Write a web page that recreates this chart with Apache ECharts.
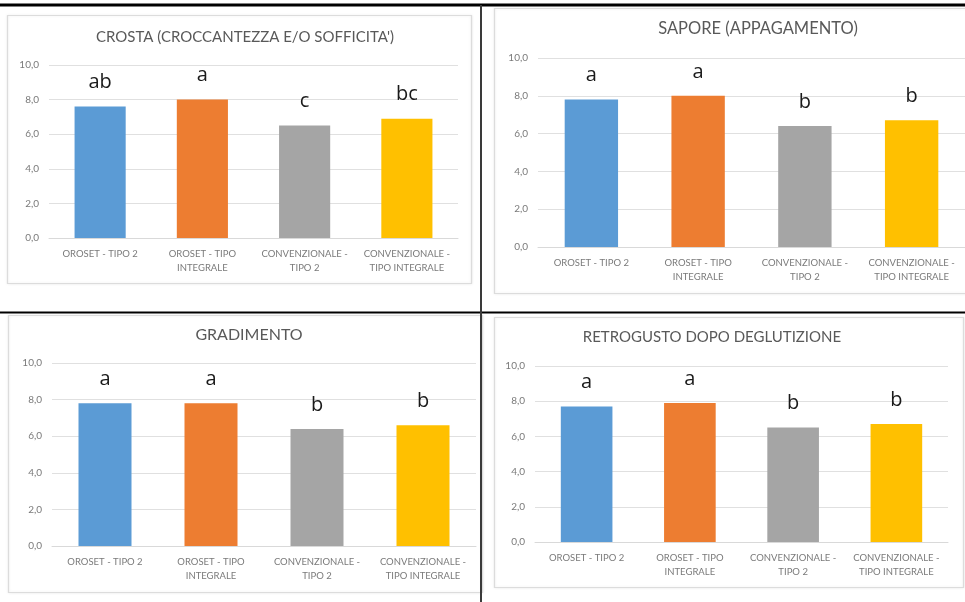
<!DOCTYPE html>
<html>
<head>
<meta charset="utf-8">
<title>Valutazione sensoriale</title>
<script src="https://cdn.jsdelivr.net/npm/echarts@6/dist/echarts.min.js"></script>
<style>
  html, body { margin: 0; padding: 0; background: #ffffff; }
  #chart { width: 965px; height: 602px; }
</style>
</head>
<body>
<div id="chart"></div>
<script>
// Prodotti confrontati (asse delle categorie, uguale in tutti i pannelli)
const categories = [
  'OROSET - TIPO 2',
  'OROSET - TIPO\nINTEGRALE',
  'CONVENZIONALE -\nTIPO 2',
  'CONVENZIONALE -\nTIPO INTEGRALE'
];

// Titoli dei quattro attributi sensoriali
const panelTitles = [
  "CROSTA (CROCCANTEZZA E/O SOFFICITA')",
  'SAPORE (APPAGAMENTO)',
  'GRADIMENTO',
  'RETROGUSTO DOPO DEGLUTIZIONE'
];

// Punteggi medi per attributo
const crostaValues     = [7.6, 8.0, 6.5, 6.9];
const saporeValues     = [7.8, 8.0, 6.4, 6.7];
const gradimentoValues = [7.8, 7.8, 6.4, 6.6];
const retrogustoValues = [7.7, 7.9, 6.5, 6.7];

// Lettere di significatività statistica
const crostaLetters     = ['ab', 'a', 'c', 'bc'];
const saporeLetters     = ['a', 'a', 'b', 'b'];
const gradimentoLetters = ['a', 'a', 'b', 'b'];
const retrogustoLetters = ['a', 'a', 'b', 'b'];

// Scala dell'asse dei valori
const yMin = 0;
const yMax = 10;
const yStep = 2;

const barColors = ['#5B9BD5', '#ED7D31', '#A5A5A5', '#FFC000'];

const seriesValues = [crostaValues, saporeValues, gradimentoValues, retrogustoValues];
const seriesLetters = [crostaLetters, saporeLetters, gradimentoLetters, retrogustoLetters];

// Impaginazione dei pannelli (pixel)
const layouts = [
  { grid: { left: 49,  top: 65,  width: 409, height: 173 }, title: { x: 245, y: 30, size: 15 },    box: [7, 15, 464, 268] },
  { grid: { left: 538, top: 58,  width: 440, height: 189 }, title: { x: 758, y: 20, size: 16.5 },  box: [494, 8, 500, 285] },
  { grid: { left: 52,  top: 363, width: 424, height: 183 }, title: { x: 249, y: 327, size: 16 },   box: [8, 315, 474, 277] },
  { grid: { left: 535, top: 366, width: 413, height: 176 }, title: { x: 712, y: 330, size: 15 },   box: [494, 317, 469, 270] }
];

const FONT = 'Lato, "Open Sans", sans-serif';
const fmt = v => v.toFixed(1).replace('.', ',');

const option = {
  backgroundColor: '#ffffff',
  animation: false,
  title: [],
  grid: [],
  xAxis: [],
  yAxis: [],
  series: [],
  graphic: []
};

// Cornici dei pannelli
layouts.forEach(l => {
  option.graphic.push({
    type: 'rect',
    z: -10,
    shape: { x: l.box[0] + 0.5, y: l.box[1] + 0.5, width: l.box[2], height: l.box[3] },
    style: { fill: '#ffffff', stroke: '#dcdcdc', lineWidth: 1.2, shadowBlur: 3, shadowColor: 'rgba(0,0,0,0.08)' }
  });
});

// Linee di separazione della tabella
option.graphic.push(
  { type: 'line', z: 100, shape: { x1: 0, y1: 5, x2: 965, y2: 5 }, style: { stroke: '#000000', lineWidth: 3 } },
  { type: 'line', z: 100, shape: { x1: 0, y1: 312.5, x2: 965, y2: 312.5 }, style: { stroke: '#000000', lineWidth: 2 } },
  { type: 'line', z: 100, shape: { x1: 481, y1: 5, x2: 481, y2: 602 }, style: { stroke: '#3a3a3a', lineWidth: 2 } }
);

layouts.forEach((l, i) => {
  option.title.push({
    text: panelTitles[i],
    left: l.title.x,
    top: l.title.y,
    textAlign: 'center',
    padding: 0,
    textStyle: { fontFamily: FONT, fontSize: l.title.size, fontWeight: 'normal', color: '#595959' }
  });
  option.grid.push(Object.assign({ containLabel: false }, l.grid));
  option.xAxis.push({
    type: 'category',
    gridIndex: i,
    data: categories,
    axisLine: { lineStyle: { color: '#d9d9d9', width: 1 } },
    axisTick: { show: false },
    axisLabel: {
      interval: 0,
      margin: 9,
      fontFamily: FONT,
      fontSize: 9.5,
      lineHeight: 14,
      color: '#7a7a7a'
    }
  });
  option.yAxis.push({
    type: 'value',
    gridIndex: i,
    min: yMin,
    max: yMax,
    interval: yStep,
    axisLine: { show: false },
    axisTick: { show: false },
    splitLine: { lineStyle: { color: '#e0e0e0', width: 1 } },
    axisLabel: {
      margin: 10,
      fontFamily: FONT,
      fontSize: 10,
      color: '#7a7a7a',
      formatter: fmt
    }
  });
  option.series.push({
    type: 'bar',
    xAxisIndex: i,
    yAxisIndex: i,
    barWidth: '50%',
    data: seriesValues[i].map((v, k) => ({ value: v, itemStyle: { color: barColors[k] } })),
    label: {
      show: true,
      position: 'top',
      distance: 14,
      fontFamily: '"Open Sans", Lato, sans-serif',
      fontSize: 20,
      fontWeight: 500,
      color: '#1a1a1a',
      formatter: p => seriesLetters[i][p.dataIndex]
    }
  });
});

const chart = echarts.init(document.getElementById('chart'), null, { renderer: 'canvas' });
chart.setOption(option);
</script>
</body>
</html>
